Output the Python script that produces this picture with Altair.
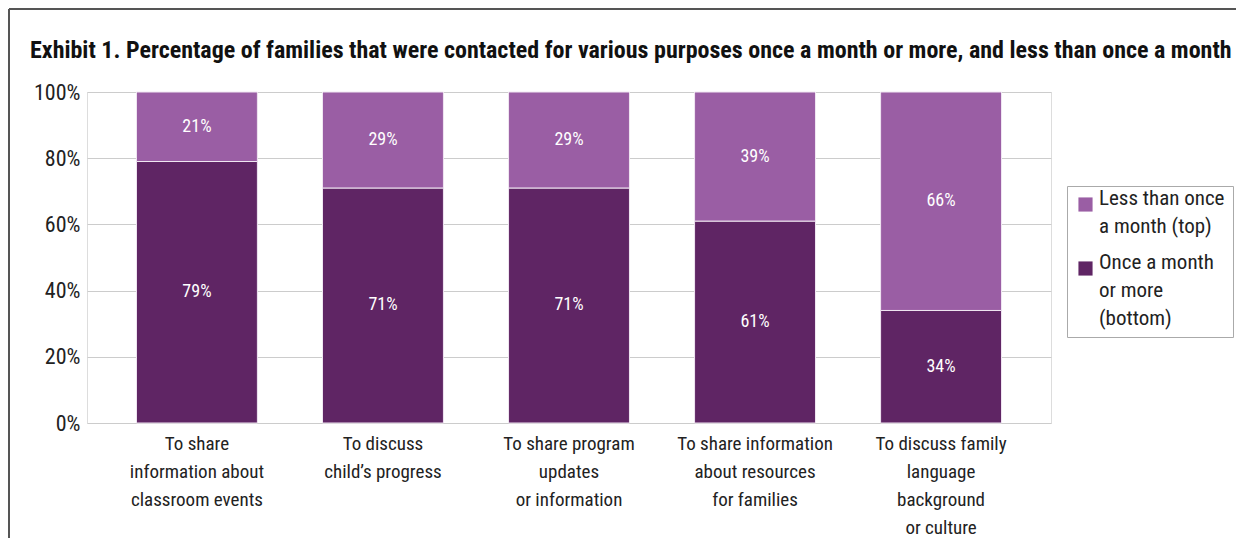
import altair as alt
import pandas as pd

categories = [
    "To share\ninformation about\nclassroom events",
    "To discuss\nchild\u2019s progress",
    "To share program\nupdates\nor information",
    "To share information\nabout resources\nfor families",
    "To discuss family\nlanguage\nbackground\nor culture",
]
series = ["Less than once\na month (top)", "Once a month\nor more\n(bottom)"]
once_or_more = [79, 71, 71, 61, 34]
less_than_once = [21, 29, 29, 39, 66]

rows = []
for i, c in enumerate(categories):
    rows.append({"cat": c, "series": series[1], "value": once_or_more[i], "order": 0})
    rows.append({"cat": c, "series": series[0], "value": less_than_once[i], "order": 1})
df = pd.DataFrame(rows)

FONT = "Liberation Sans Narrow, Roboto Condensed, DejaVu Sans Condensed, sans-serif"
W, H = 964, 331

base = alt.Chart(df).transform_stack(
    stack="value", groupby=["cat"], as_=["y0", "y1"], sort=[alt.SortField("order")]
).transform_calculate(mid="(datum.y0 + datum.y1) / 2", txt="datum.value + '%'")

xenc = alt.X(
    "cat:N",
    sort=categories,
    title=None,
    scale=alt.Scale(paddingInner=0.35, paddingOuter=0.266),
    axis=alt.Axis(
        labelExpr="split(datum.label, '\\n')",
        labelAngle=0,
        labelFontSize=19,
        labelLineHeight=28,
        labelPadding=11,
        labelColor="#222222",
        labelFont=FONT,
        ticks=False,
        domain=False,
        grid=False,
    ),
)

bars = base.mark_bar(stroke="#f0e6f2", strokeWidth=1).encode(
    x=xenc,
    y=alt.Y(
        "y0:Q",
        title=None,
        scale=alt.Scale(domain=[0, 100]),
        axis=alt.Axis(
            values=[0, 20, 40, 60, 80, 100],
            labelExpr="datum.value + '%'",
            labelFontSize=22,
            labelColor="#222222",
            labelFont=FONT,
            labelPadding=7,
            ticks=False,
            domain=False,
            gridColor="#cccccc",
            gridWidth=1,
        ),
    ),
    y2="y1:Q",
    color=alt.Color(
        "series:N",
        scale=alt.Scale(domain=series, range=["#9a5ea4", "#5f2564"]),
        legend=alt.Legend(
            title=None,
            orient="none",
            legendX=980,
            legendY=94,
            labelExpr="split(datum.label, '\\n')",
            labelFontSize=21,
            labelFont=FONT,
            labelColor="#222222",
            labelBaseline="alphabetic",
            labelLimit=200,
            labelOffset=3,
            symbolType="square",
            symbolSize=200,
            symbolStrokeWidth=0,
            rowPadding=14,
            padding=8,
            strokeColor="#aaaaaa",
            fillColor="white",
        ),
    ),
    order=alt.Order("order:Q"),
)

labels = base.mark_text(color="white", fontSize=18, font=FONT).encode(
    x=alt.X("cat:N", sort=categories),
    y=alt.Y("mid:Q"),
    text="txt:N",
)

frame_data = alt.Data(values=[{"k": 1}])
frame_left = alt.Chart(frame_data).mark_rule(color="#555555", strokeWidth=2).encode(
    x=alt.value(-78), y=alt.value(-83), y2=alt.value(H + 130)
)
frame_top = alt.Chart(frame_data).mark_rule(color="#555555", strokeWidth=2).encode(
    x=alt.value(-78), x2=alt.value(W + 200), y=alt.value(-83)
)

chart = alt.layer(bars, labels, frame_left, frame_top).properties(
    width=W,
    height=H,
    title=alt.TitleParams(
        "Exhibit 1. Percentage of families that were contacted for various purposes once a month or more, and less than once a month",
        anchor="start",
        frame="group",
        font=FONT,
        fontSize=24,
        fontWeight="bold",
        color="#111111",
        offset=-55,
        dx=-57,
    ),
    autosize=alt.AutoSizeParams(type="none"),
    padding={"left": 79, "top": 84, "right": 185, "bottom": 115},
).configure_view(stroke=None).configure(
    background="white", style={"guide-label": {"lineHeight": 28}}
)

chart.save("out.html", embed_options={"renderer": "svg", "actions": False})
